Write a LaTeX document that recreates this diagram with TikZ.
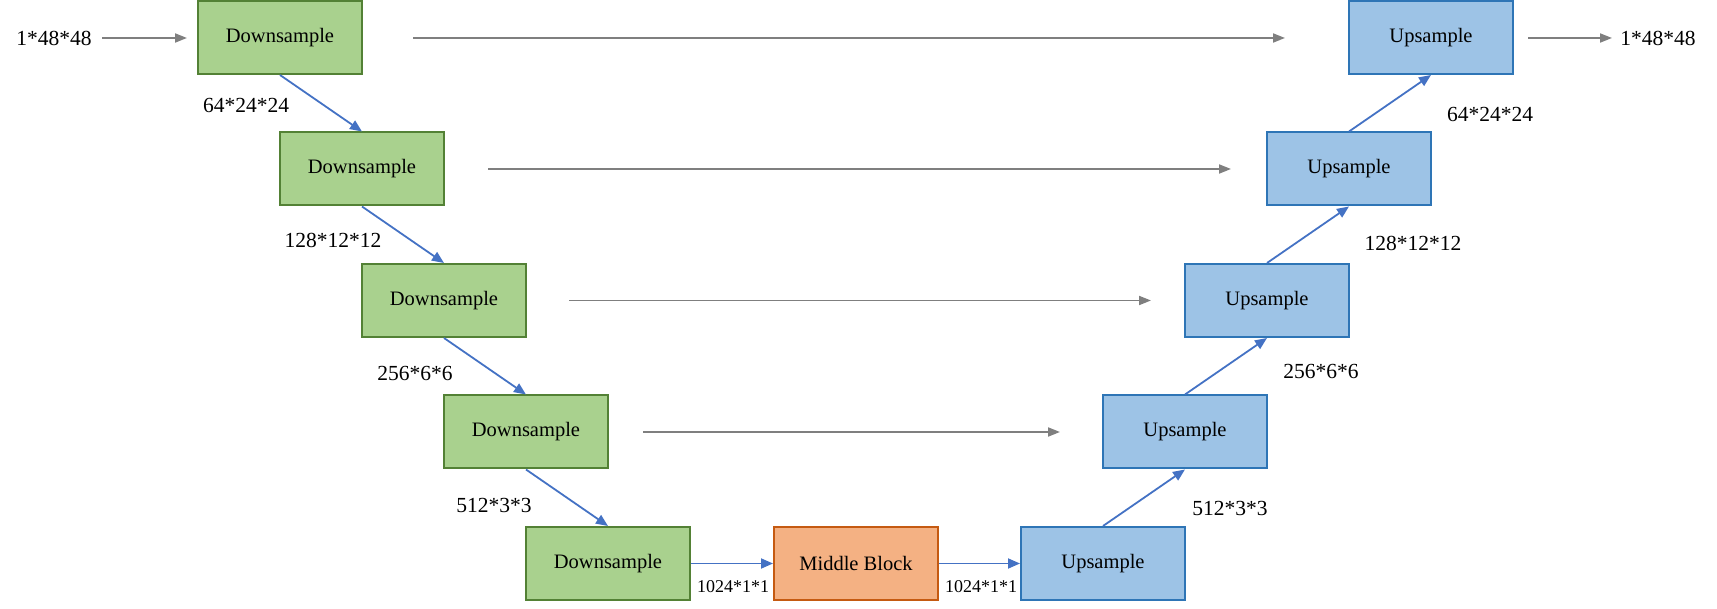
\documentclass[tikz,border=0pt]{standalone}
\usepackage{fontspec}
\setmainfont{Liberation Serif}
\usetikzlibrary{arrows.meta,calc}
\definecolor{gfill}{HTML}{A9D18E}
\definecolor{gdraw}{HTML}{538135}
\definecolor{bfill}{HTML}{9DC3E6}
\definecolor{bdraw}{HTML}{2E75B6}
\definecolor{ofill}{HTML}{F4B183}
\definecolor{odraw}{HTML}{C55A11}
\definecolor{conblue}{HTML}{4472C4}
\definecolor{congray}{HTML}{7F7F7F}
\tikzset{
  blk/.style={draw, line width=2pt, minimum width=164pt, minimum height=73pt, inner sep=0pt, font=\fontsize{20.5}{24}\selectfont},
  down/.style={blk, fill=gfill, draw=gdraw},
  upb/.style={blk, fill=bfill, draw=bdraw},
  mid/.style={blk, fill=ofill, draw=odraw},
  lbl/.style={inner sep=0pt, font=\fontsize{21.5}{24}\selectfont},
  slbl/.style={inner sep=0pt, font=\fontsize{18}{20}\selectfont},
  bluearr/.style={draw=conblue, line width=1.8pt, -{Triangle[length=12pt,width=10pt]}, fill=conblue},
  grayarr/.style={draw=congray, line width=1.8pt, -{Triangle[length=12pt,width=9pt]}, fill=congray},
}
\begin{document}
\begin{tikzpicture}[x=1pt,y=-1pt]
\useasboundingbox (0,0) rectangle (1717,609);
% downsample column
\node[down] (d1) at (280,37.5) {Downsample};
\node[down] (d2) at (362,169) {Downsample};
\node[down] (d3) at (444,300.5) {Downsample};
\node[down] (d4) at (526,432) {Downsample};
\node[down] (d5) at (608,563.5) {Downsample};
\node[mid] (m) at (856,563.5) {Middle Block};
\node[upb] (u5) at (1103,563.5) {Upsample};
\node[upb] (u4) at (1185,432) {Upsample};
\node[upb] (u3) at (1267,300.5) {Upsample};
\node[upb] (u2) at (1349,169) {Upsample};
\node[upb] (u1) at (1431,37.5) {Upsample};
% io labels
\node[lbl] (in) at (54,38) {1*48*48};
\node[lbl] (out) at (1658,38) {1*48*48};
% size labels
\node[lbl] (l1) at (246,105) {64*24*24};
\node[lbl] (l2) at (333,240) {128*12*12};
\node[lbl] (l3) at (415,373) {256*6*6};
\node[lbl] (l4) at (494,505) {512*3*3};
\node[lbl] (r1) at (1490,114) {64*24*24};
\node[lbl] (r2) at (1413,243) {128*12*12};
\node[lbl] (r3) at (1321,371) {256*6*6};
\node[lbl] (r4) at (1230,508) {512*3*3};
\node[slbl] (c1) at (733,587) {1024*1*1};
\node[slbl] (c2) at (981,587) {1024*1*1};
% input / output arrows
\coordinate (ina) at (102,38);
\coordinate (inb) at (187,38);
\coordinate (outa) at (1528,38);
\coordinate (outb) at (1612,38);
\draw[grayarr] (ina) -- (inb);
\draw[grayarr] (outa) -- (outb);
% skip arrows
\coordinate (s1a) at (413,38);   \coordinate (s1b) at (1285,38);
\coordinate (s2a) at (488,169);  \coordinate (s2b) at (1231,169);
\coordinate (s3a) at (569,300.5);\coordinate (s3b) at (1151,300.5);
\coordinate (s4a) at (643,432);  \coordinate (s4b) at (1060,432);
\draw[grayarr] (s1a) -- (s1b);
\draw[grayarr] (s2a) -- (s2b);
\draw[grayarr] (s3a) -- (s3b);
\draw[grayarr] (s4a) -- (s4b);
% down/up arrows
\draw[bluearr] (d1.south) -- (d2.north);
\draw[bluearr] (d2.south) -- (d3.north);
\draw[bluearr] (d3.south) -- (d4.north);
\draw[bluearr] (d4.south) -- (d5.north);
\draw[bluearr] (d5.east) -- (m.west);
\draw[bluearr] (m.east) -- (u5.west);
\draw[bluearr] (u5.north) -- (u4.south);
\draw[bluearr] (u4.north) -- (u3.south);
\draw[bluearr] (u3.north) -- (u2.south);
\draw[bluearr] (u2.north) -- (u1.south);
\end{tikzpicture}
\end{document}
